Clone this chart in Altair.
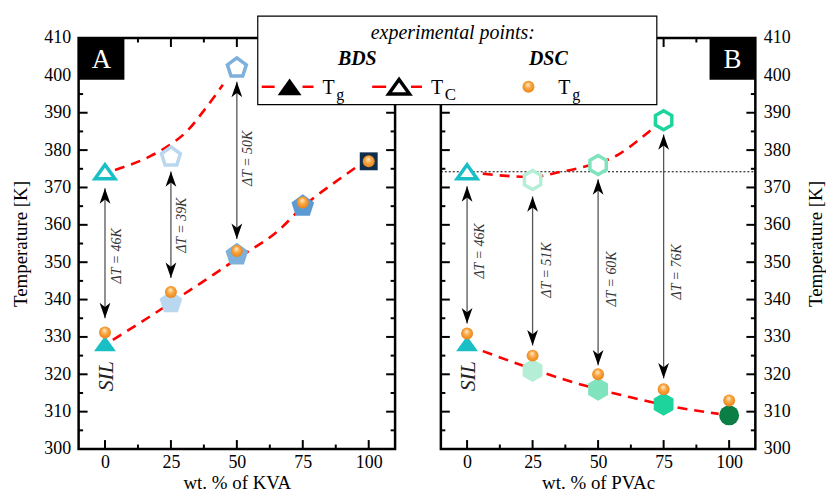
import altair as alt
import pandas as pd

SERIF = "Liberation Serif"

# ---------------------------------------------------------------- data
wt = [0, 25, 50, 75, 100]

# SIL + KVA : BDS glass transition, BDS crossover T_C, DSC glass transition
kva_tg_bds = [328.2, 339.2, 352.0, 365.0, 377.0]
kva_dt = [46, 39, 50]                      # T_C - T_g at 0, 25, 50 wt.%
kva_tc_bds = [374.2, 378.2, 402.0]
kva_tg_dsc = [331.2, 342.0, 353.0, 366.0, 377.0]

# SIL + PVAc
pvac_tg_bds = [328.2, 321.0, 316.0, 312.0, 309.0]
pvac_dt = [46, 51, 60, 76]                 # T_C - T_g at 0, 25, 50, 75 wt.%
pvac_tc_bds = [374.2, 372.0, 376.0, 388.0]
pvac_tg_dsc = [330.9, 325.0, 320.0, 316.0, 313.0]

# dashed guide curves
kva_tc_fit_x = [3.8, 17.0, 24.6, 31.0, 37.2, 44.7]
kva_tc_fit_y = [374.7, 378.3, 381.4, 385.0, 390.3, 397.5]
kva_tg_fit_x = [3.0, 16.0, 30.0, 41.0, 51.0, 65.0, 75.0, 90.0, 97.0]
kva_tg_fit_y = [329.2, 335.0, 341.5, 346.6, 351.4, 358.0, 364.8, 372.8, 376.3]
pvac_tc_fit_x = [6.0, 15.0, 24.0, 36.0, 45.0, 57.7, 66.0, 73.0]
pvac_tc_fit_y = [373.7, 373.1, 372.8, 374.2, 375.6, 378.8, 383.0, 387.0]
pvac_tg_fit_x = [6.0, 25.0, 38.0, 50.0, 62.0, 78.0, 96.0]
pvac_tg_fit_y = [326.2, 321.4, 318.4, 316.0, 313.9, 311.4, 309.4]

# double arrows (lower / upper tips) and their ΔT label anchors
kva_arrow_lo = [335.0, 345.8, 356.2]
kva_arrow_hi = [369.8, 374.3, 398.3]
kva_label_x = [4.5, 29.2, 54.2]
kva_label_y = [351.7, 359.9, 377.8]
pvac_arrow_lo = [333.6, 327.7, 322.4, 318.9]
pvac_arrow_hi = [370.3, 367.6, 372.2, 384.2]
pvac_label_x = [4.9, 30.6, 55.5, 80.0]
pvac_label_y = [353.0, 347.9, 345.5, 347.4]

# axis ticks
x_ticks = [0, 25, 50, 75, 100]
x_minor = [12.5, 37.5, 62.5, 87.5]
y_ticks = [300, 310, 320, 330, 340, 350, 360, 370, 380, 390, 400, 410]
y_minor = [305, 315, 325, 335, 345, 355, 365, 375, 385, 395, 405]

# ---------------------------------------------------------------- styles
TRI = "M0,-0.7L1,0.7L-1,0.7Z"
PENT = "M0,-1L0.951,-0.309L0.588,0.809L-0.588,0.809L-0.951,-0.309Z"
HEX = "M0,-1L0.866,-0.5L0.866,0.5L0,1L-0.866,0.5L-0.866,-0.5Z"
UP_HEAD = "M0,0L0.7,2L0,1.45L-0.7,2Z"
DOWN_HEAD = "M0,0L0.7,-2L0,-1.45L-0.7,-2Z"

CYAN = "#1ABFC6"
RED = "#FF0000"
BALL = alt.RadialGradient(
    gradient="radial",
    stops=[
        alt.GradientStop(offset=0, color="#FFF0D2"),
        alt.GradientStop(offset=0.45, color="#F9A640"),
        alt.GradientStop(offset=1, color="#E57A10"),
    ],
    x1=0.45, y1=0.3, r1=0.0, x2=0.5, y2=0.5, r2=0.6,
)

kva_tg_style = dict(shape=[TRI, PENT, PENT, PENT, "square"],
                    color=[CYAN, "#B9D7EE", "#7EB0DC", "#5C9AD3", "#0F2D4C"],
                    size=[484, 576, 576, 576, 324])
kva_tc_style = dict(shape=[TRI, PENT, PENT],
                    color=[CYAN, "#B9D7EE", "#7EB0DC"],
                    size=[400, 400, 400])
pvac_tg_style = dict(shape=[TRI, HEX, HEX, HEX, "circle"],
                     color=[CYAN, "#B5EED7", "#7FE3BE", "#1ED49D", "#0B7E45"],
                     size=[484, 529, 529, 529, 400])
pvac_tc_style = dict(shape=[TRI, HEX, HEX, HEX],
                     color=[CYAN, "#B5EED7", "#7FE3BE", "#1ED49D"],
                     size=[400, 361, 361, 361])

W_A, W_B, H = 318, 316, 413
XS = alt.Scale(domain=[-10, 110], nice=False, zero=False)
YS = alt.Scale(domain=[300, 410], nice=False, zero=False)
one = pd.DataFrame({"k": [0]})


def x_axis(title, w):
    return alt.Axis(values=x_ticks, title=title, domain=False, ticks=False, tickSize=0,
                    grid=False, labelFont=SERIF, labelFontSize=18, labelColor="black",
                    labelPadding=5, titleFont=SERIF, titleFontSize=19,
                    titleFontWeight="normal", titleColor="black",
                    titleX=w / 2, titleY=34, titleBaseline="middle")


def y_axis(orient):
    tx = -58 if orient == "left" else 60
    return alt.Axis(values=y_ticks, orient=orient, title="Temperature [K]", domain=False,
                    ticks=False, tickSize=0, grid=False, labelFont=SERIF,
                    labelFontSize=18, labelColor="black", labelPadding=8,
                    titleFont=SERIF, titleFontSize=19, titleFontWeight="normal",
                    titleColor="black", titleAngle=270, titleX=tx, titleY=H / 2,
                    titleBaseline="middle")


def vtext(txt, x, y, size, style="normal", weight="normal", align="left", color="black"):
    return alt.Chart(one).mark_text(
        text=txt, font=SERIF, fontSize=size, fontStyle=style, fontWeight=weight,
        align=align, baseline="alphabetic", color=color
    ).encode(x=alt.value(x), y=alt.value(y))


def vrect(x1, x2, y1, y2, **kw):
    return alt.Chart(one).mark_rect(**kw).encode(
        x=alt.value(x1), x2=alt.value(x2), y=alt.value(y1), y2=alt.value(y2))


def vrule(x1, x2, y, **kw):
    return alt.Chart(one).mark_rule(**kw).encode(
        x=alt.value(x1), x2=alt.value(x2), y=alt.value(y))


def vpoint(x, y, **kw):
    return alt.Chart(one).mark_point(**kw).encode(x=alt.value(x), y=alt.value(y))


def panel(W, x_title, orient, tg_bds, tg_style, tc_bds, tc_style, tg_dsc, dts,
          lo, hi, lab_x, lab_y, fits, letter, letter_x0, extra_below=(), extra_above=()):
    X = lambda f: alt.X(f"{f}:Q", scale=XS, axis=x_axis(x_title, W))
    Y = lambda f: alt.Y(f"{f}:Q", scale=YS, axis=y_axis(orient))

    layers = [vrect(0, W, 0, H, fill="white", fillOpacity=0, stroke="black", strokeWidth=2.5)]

    # inward ticks on all four sides
    ymaj = pd.DataFrame({"v": y_ticks})
    ymin = pd.DataFrame({"v": y_minor})
    xmaj = pd.DataFrame({"v": x_ticks})
    xmin = pd.DataFrame({"v": x_minor})
    for df, L in ((ymaj, 9), (ymin, 4.5)):
        layers.append(alt.Chart(df).mark_rule(color="black", strokeWidth=2).encode(
            y=Y("v"), x=alt.value(0), x2=alt.value(L)))
        layers.append(alt.Chart(df).mark_rule(color="black", strokeWidth=2).encode(
            y=Y("v"), x=alt.value(W - L), x2=alt.value(W)))
    for df, L in ((xmaj, 9), (xmin, 4.5)):
        layers.append(alt.Chart(df).mark_rule(color="black", strokeWidth=2).encode(
            x=X("v"), y=alt.value(H - L), y2=alt.value(H)))
        layers.append(alt.Chart(df).mark_rule(color="black", strokeWidth=2).encode(
            x=X("v"), y=alt.value(0), y2=alt.value(L)))

    layers.extend(extra_below)

    # dashed guide curves
    for fx, fy in fits:
        layers.append(alt.Chart(pd.DataFrame({"x": fx, "T": fy})).mark_line(
            color=RED, strokeWidth=2.6, strokeDash=[10, 7], interpolate="monotone"
        ).encode(x=X("x"), y=Y("T")))

    # ΔT arrows
    arr = pd.DataFrame({"x": wt[:len(lo)], "lo": lo, "hi": hi})
    layers.append(alt.Chart(arr).mark_rule(color="#555555", strokeWidth=1.3).encode(
        x=X("x"), y=Y("lo"), y2="hi"))
    layers.append(alt.Chart(arr).mark_point(shape=UP_HEAD, size=240, filled=True,
                                            color="black", opacity=1, strokeWidth=0)
                  .encode(x=X("x"), y=Y("hi")))
    layers.append(alt.Chart(arr).mark_point(shape=DOWN_HEAD, size=240, filled=True,
                                            color="black", opacity=1, strokeWidth=0)
                  .encode(x=X("x"), y=Y("lo")))
    labs = pd.DataFrame({"x": lab_x, "T": lab_y,
                         "label": [f"ΔT = {d}K" for d in dts]})
    layers.append(alt.Chart(labs).mark_text(
        angle=270, font=SERIF, fontSize=14, fontStyle="italic", color="#333333",
        align="center", baseline="middle").encode(x=X("x"), y=Y("T"), text="label:N"))

    # BDS T_C (open) and T_g (filled) markers
    tc = pd.DataFrame({"x": wt[:len(tc_bds)], "T": tc_bds, **tc_style})
    layers.append(alt.Chart(tc).mark_point(filled=True, fill="white", opacity=1,
                                           strokeWidth=3.5).encode(
        x=X("x"), y=Y("T"), shape=alt.Shape("shape:N", scale=None),
        stroke=alt.Stroke("color:N", scale=None), size=alt.Size("size:Q", scale=None)))
    tg = pd.DataFrame({"x": wt, "T": tg_bds, **tg_style})
    layers.append(alt.Chart(tg).mark_point(filled=True, opacity=1, strokeWidth=0).encode(
        x=X("x"), y=Y("T"), shape=alt.Shape("shape:N", scale=None),
        fill=alt.Fill("color:N", scale=None), size=alt.Size("size:Q", scale=None)))

    # DSC T_g
    dsc = pd.DataFrame({"x": wt, "T": tg_dsc})
    layers.append(alt.Chart(dsc).mark_point(shape="circle", size=144, filled=True,
                                            fill=BALL, opacity=1, strokeWidth=0)
                  .encode(x=X("x"), y=Y("T")))

    # SIL tag
    sil = pd.DataFrame({"x": [0.5], "T": [319.5]})
    layers.append(alt.Chart(sil).mark_text(
        text="SIL", angle=270, font=SERIF, fontSize=22, fontStyle="italic",
        color="#222222", align="center", baseline="middle").encode(x=X("x"), y=Y("T")))

    # panel letter
    layers.append(vrect(letter_x0, letter_x0 + 46, 0, 42, fill="black"))
    layers.append(vtext(letter, letter_x0 + 23, 30, 27, align="center", color="white"))

    layers.extend(extra_above)
    return alt.layer(*layers).properties(width=W, height=H)


legend = [
    vrect(-184, 217, -22, 67, fill="white", stroke="black", strokeWidth=1.2),
    vtext("experimental points:", 12, 1, 20, style="italic", align="center"),
    vtext("BDS", -84, 27, 20, style="italic", weight="bold", align="center"),
    vtext("DSC", 108, 27, 20, style="italic", weight="bold", align="center"),
    vrule(-180, -167, 49, color=RED, strokeWidth=2.5),
    vrule(-139, -128, 49, color=RED, strokeWidth=2.5),
    vrule(-69, -55, 49, color=RED, strokeWidth=2.5),
    vrule(-30, -19, 49, color=RED, strokeWidth=2.5),
    vpoint(-152, 49, shape=TRI, size=576, filled=True, color="black", opacity=1, strokeWidth=0),
    vpoint(-42, 49, shape=TRI, size=440, filled=True, fill="white", stroke="black",
           strokeWidth=3.5, opacity=1),
    vpoint(88, 49, shape="circle", size=144, filled=True, fill=BALL, opacity=1, strokeWidth=0),
    vtext("T", -119, 56, 20), vtext("g", -105, 62, 16),
    vtext("T", -10, 56, 20), vtext("C", 4, 62, 17),
    vtext("T", 118, 56, 20), vtext("g", 132, 62, 16),
    vrect(383, 384, 456, 457, opacity=0),
]

sil_tc = pd.DataFrame({"T": [pvac_tc_bds[0]]})
dotted = alt.Chart(sil_tc).mark_rule(color="black", strokeWidth=1, strokeDash=[2, 2]).encode(
    y=alt.Y("T:Q", scale=YS, axis=y_axis("right")), x=alt.value(0), x2=alt.value(W_B))

panel_a = panel(W_A, "wt. % of KVA", "left", kva_tg_bds, kva_tg_style, kva_tc_bds,
                kva_tc_style, kva_tg_dsc, kva_dt, kva_arrow_lo, kva_arrow_hi,
                kva_label_x, kva_label_y,
                [(kva_tc_fit_x, kva_tc_fit_y), (kva_tg_fit_x, kva_tg_fit_y)],
                "A", 0, extra_above=[vrect(-78, -77, -36, -35, opacity=0)])
panel_b = panel(W_B, "wt. % of PVAc", "right", pvac_tg_bds, pvac_tg_style, pvac_tc_bds,
                pvac_tc_style, pvac_tg_dsc, pvac_dt, pvac_arrow_lo, pvac_arrow_hi,
                pvac_label_x, pvac_label_y,
                [(pvac_tc_fit_x, pvac_tc_fit_y), (pvac_tg_fit_x, pvac_tg_fit_y)],
                "B", W_B - 46, extra_below=[dotted], extra_above=legend)

chart = alt.hconcat(panel_a, panel_b, spacing=46, bounds="flush").properties(
    padding=0, background="white"
).configure_view(stroke="transparent")

chart.save("out.html", embed_options={"renderer": "svg", "actions": False})
